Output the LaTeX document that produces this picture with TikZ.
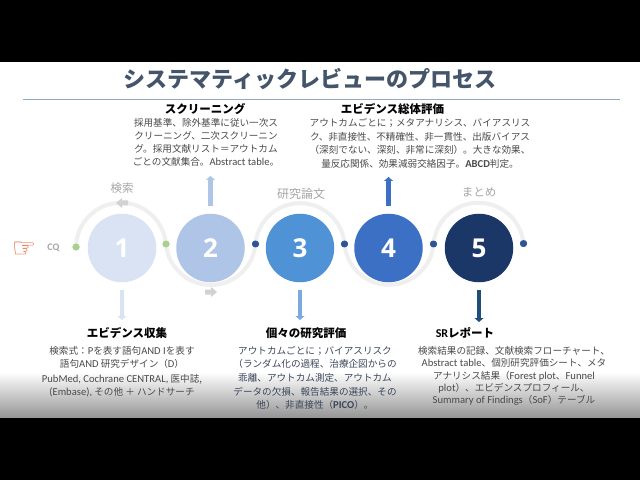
\documentclass[tikz,border=0pt]{standalone}
\usepackage{fontspec}
\usetikzlibrary{arrows.meta}
\setmainfont{Noto Sans CJK JP}
\newfontfamily\lat{Carlito}
\newfontfamily\numf{Open Sans}
\newfontfamily\symf{DejaVu Sans}
\newcommand{\Lt}[1]{{\lat\fontsize{10.6}{13}\selectfont #1}}
\definecolor{titlec}{HTML}{44546A}
\definecolor{rulec}{HTML}{8FAACC}
\definecolor{bodyc}{HTML}{4A4A4A}
\definecolor{ringc}{HTML}{EFEFEF}
\definecolor{chevc}{HTML}{D2D2D2}
\definecolor{graylab}{HTML}{A6A6A6}
\definecolor{dotg}{HTML}{A9D18E}
\definecolor{dotb}{HTML}{2F5597}
\definecolor{ca}{HTML}{DAE3F3}
\definecolor{cb}{HTML}{AEC5E8}
\definecolor{cc}{HTML}{4F93D6}
\definecolor{cd}{HTML}{3C70C4}
\definecolor{ce}{HTML}{1B3768}
\definecolor{ae}{HTML}{1F4E79}
\definecolor{handc}{HTML}{E2562B}
\tikzset{
  x=1pt,y=1pt,
  bignum/.style={circle,minimum size=68.5pt,inner sep=0pt,text=white,font=\numf\bfseries\fontsize{26}{26}\selectfont},
  ringarc/.style={draw=ringc,line width=4pt},
  dotn/.style={circle,minimum size=7pt,inner sep=0pt},
  stem/.style={line width=4.5pt,-{Triangle[width=9pt,length=4pt]}},
  heading/.style={font=\bfseries\fontsize{11.5}{14}\selectfont,text=black,inner sep=0pt},
  bodyt/.style={font=\fontsize{9.6}{13.6}\selectfont,text=bodyc,align=center,inner sep=0pt},
  stagelab/.style={text=graylab,inner sep=0pt},
}
\begin{document}
\begin{tikzpicture}
\useasboundingbox (0,0) rectangle (640,480);
\fill[white] (0,0) rectangle (640,480);
% fade at the bottom of the slide
\shade[top color=white,bottom color=black!42] (0,62) rectangle (640,108);
\fill[black] (0,418) rectangle (640,480);
\fill[black] (0,0) rectangle (640,62);
% title
\node[font=\bfseries\fontsize{22}{26}\selectfont,text=titlec,inner sep=0pt] (title) at (310,401) {システマティックレビューのプロセス};
\coordinate (ruleL) at (23,380.5);
\coordinate (ruleR) at (620,380.5);
\draw[rulec,line width=0.8pt] (ruleL) -- (ruleR);
% connector dots
\node[dotn,fill=dotg] (d1) at (76,233) {};
\node[dotn,fill=dotg] (d2) at (166,236) {};
\node[dotn,fill=dotb] (d3) at (255.5,236) {};
\node[dotn,fill=dotb] (d4) at (344.5,236) {};
\node[dotn,fill=dotb] (d5) at (433.5,236) {};
\node[dotn,fill=dotb] (d6) at (523.5,236.5) {};
% rings
\begin{scope}[on background layer/.try]
\end{scope}
\draw[ringarc] (d1.center) arc[start angle=179,end angle=5,radius=45];
\draw[ringarc] (d2.center) arc[start angle=185,end angle=355,radius=44.9];
\draw[ringarc] (d3.center) arc[start angle=175,end angle=5,radius=44.7];
\draw[ringarc] (d4.center) arc[start angle=185,end angle=355,radius=44.7];
\draw[ringarc] (d5.center) arc[start angle=175,end angle=5,radius=45.2];
% redraw dots over rings
\fill[dotg] (d1) circle (3.5); \fill[dotg] (d2) circle (3.5);
\foreach \n in {d3,d4,d5,d6} \fill[dotb] (\n) circle (3.5);
% chevrons on the rings
\fill[chevc] (116,277) -- (122,282) -- (122,279.5) -- (128,279.5) -- (128,274.5) -- (122,274.5) -- (122,272) -- cycle;
\fill[chevc] (217,188) -- (211,183) -- (211,185.5) -- (205,185.5) -- (205,190.5) -- (211,190.5) -- (211,193) -- cycle;
% numbered circles
\node[bignum,fill=ca] (c1) at (122,232) {1};
\node[bignum,fill=cb] (c2) at (210.5,232) {2};
\node[bignum,fill=cc] (c3) at (300,232) {3};
\node[bignum,fill=cd] (c4) at (388.5,232) {4};
\node[bignum,fill=ce] (c5) at (479,232) {5};
% free ends of the stems
\coordinate (e1) at (122,160);
\coordinate (e2) at (210.5,304);
\coordinate (e3) at (300,160);
\coordinate (e4) at (388.5,303);
\coordinate (e5) at (479,158);
\draw[stem,ca,shorten <=8pt] (c1) -- (e1);
\draw[stem,cb,shorten <=8pt] (c2) -- (e2);
\draw[stem,cc!70!ca,shorten <=8pt] (c3) -- (e3);
\draw[stem,cd,shorten <=8pt] (c4) -- (e4);
\draw[stem,ae,shorten <=8pt] (c5) -- (e5);
% stage labels
\node[stagelab,font=\fontsize{11.5}{14}\selectfont] (s1) at (122,292) {検索};
\node[stagelab,font=\fontsize{12}{14}\selectfont] (s3) at (301,286) {研究論文};
\node[stagelab,font=\fontsize{11.5}{14}\selectfont] (s5) at (479,288) {まとめ};
% CQ and hand
\node[text=graylab,font=\lat\bfseries\fontsize{10}{12}\selectfont,inner sep=0pt] (cq) at (53.5,232) {CQ};
\node[text=handc,font=\symf\fontsize{27}{27}\selectfont,inner sep=0pt] (hand) at (24,230) {☞};
% headings
\node[heading] (h2) at (205,371) {スクリーニング};
\node[heading] (h4) at (392.5,371) {エビデンス総体評価};
\node[heading] (h1) at (127,147) {エビデンス収集};
\node[heading] (h3) at (306,147) {個々の研究評価};
\node[heading] (h5) at (465,147) {{\lat\bfseries\fontsize{12}{14}\selectfont SR}レポート};
% body texts
\node[bodyt,anchor=north,text=bodyc] (b2) at (206,361.5) {採用基準、除外基準に従い一次ス\\[-0.6pt]クリーニング、二次スクリーニン\\[-0.6pt]グ。採用文献リスト＝アウトカム\\[-1.2pt]ごとの文献集合。\Lt{Abstract table}。};
\node[bodyt,anchor=north] (b4) at (420,361.5) {アウトカムごとに；メタアナリシス、バイアスリス\\ク、非直接性、不精確性、非一貫性、出版バイアス\\（深刻でない、深刻、非常に深刻）。大きな効果、\\量反応関係、効果減弱交絡因子。\Lt{\bfseries ABCD}判定。};
\node[bodyt,anchor=north] (b1) at (122,134) {検索式：\Lt{P}を表す語句\Lt{AND I}を表す\\[-0.6pt]語句\Lt{AND} 研究デザイン（\Lt{D}）\\[1.4pt]\Lt{PubMed, Cochrane CENTRAL,} 医中誌,\\[-0.6pt]\Lt{(Embase),} その他 ＋ ハンドサーチ};
\node[bodyt,anchor=north,text=titlec!85!black] (b3) at (315,134) {アウトカムごとに；バイアスリスク\\（ランダム化の過程、治療企図からの\\乖離、アウトカム測定、アウトカム\\データの欠損、報告結果の選択、その\\他）、非直接性（\Lt{\bfseries PICO}）。};
\node[bodyt,anchor=north,font=\fontsize{9.6}{12.4}\selectfont] (b5) at (514,134) {検索結果の記録、文献検索フローチャート、\\\Lt{Abstract table}、個別研究評価シート、メタ\\アナリシス結果（\Lt{Forest plot}、\Lt{Funnel}\\\Lt{plot}）、エビデンスプロフィール、\\\Lt{Summary of Findings}（\Lt{SoF}）テーブル};
\end{tikzpicture}
\end{document}
